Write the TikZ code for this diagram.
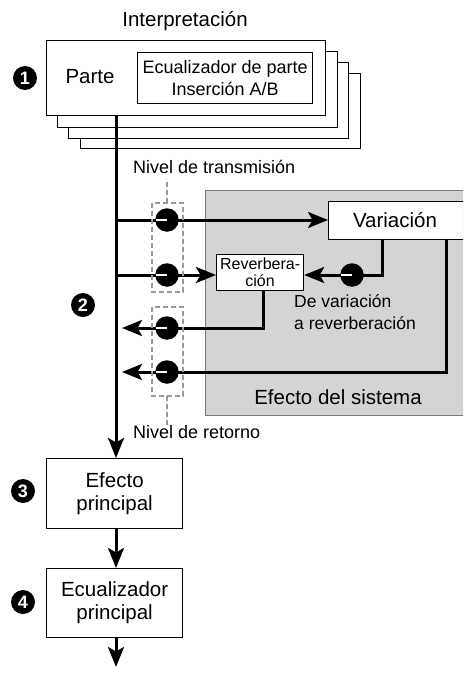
\documentclass[tikz,border=0pt]{standalone}
\usepackage{fontspec}
\setmainfont{Liberation Sans}
\usetikzlibrary{arrows.meta}
\definecolor{sysgray}{HTML}{D3D4D6}
\definecolor{sysedge}{HTML}{7A7A7A}
\definecolor{dashgray}{HTML}{9A9A9A}
\tikzset{
  box/.style={draw=black, line width=1.2pt, fill=white, inner sep=0pt},
  flow/.style={line width=3pt},
  arr/.style={flow, -{Stealth[length=20pt,width=16pt,inset=4.5pt]}},
  knob/.style={circle, fill=black, minimum size=23.5pt, inner sep=0pt},
  num/.style={circle, fill=black, text=white, minimum size=24pt, inner sep=0pt, font=\fontsize{18}{18}\selectfont\bfseries},
  dashbox/.style={draw=dashgray, line width=1.5pt, dash pattern=on 5pt off 3pt},
  big/.style={font=\fontsize{20.5}{23}\selectfont, inner sep=0pt},
  mid/.style={font=\fontsize{18}{22}\selectfont, inner sep=0pt},
  small/.style={font=\fontsize{16}{17}\selectfont, inner sep=0pt},
}
\begin{document}
\begin{tikzpicture}[x=1pt,y=-1pt]
\path[use as bounding box] (0,0) rectangle (463,677);
\clip (0,0) rectangle (463,677);
\fill[white] (0,0) rectangle (463,677);

% system effect area
\node[fill=sysgray, draw=sysedge, line width=0.8pt, minimum width=262pt, minimum height=225pt, inner sep=0pt, anchor=north west] (sys) at (205,190) {};

% stacked part boxes
\node[box, minimum width=280pt, minimum height=75pt, anchor=north west] (p4) at (80,73) {};
\node[box, minimum width=280pt, minimum height=76pt, anchor=north west] (p3) at (68,62) {};
\node[box, minimum width=280pt, minimum height=76pt, anchor=north west] (p2) at (57,51) {};
\node[box, minimum width=279pt, minimum height=75pt, anchor=north west] (parte) at (46,40) {};
\node[box, minimum width=175pt, minimum height=51pt, anchor=north west, align=center, mid] (peq) at (137,52) {Ecualizador de parte\\Inserción A/B};
\node[big] (partetxt) at (90,77) {Parte};
\node[big] (interp) at (185,21) {Interpretación};

% boxes
\node[box, minimum width=140pt, minimum height=38pt, anchor=north west] (var) at (328,201) {};
\node[big] (vartxt) at (395,220) {Variación};
\node[box, minimum width=87pt, minimum height=36pt, anchor=north west, align=center, small] (rev) at (216,254) {Reverbera-\\ción};
\node[box, minimum width=136pt, minimum height=70pt, anchor=north west, align=center, big] (efp) at (46,458) {Efecto\\principal};
\node[box, minimum width=136pt, minimum height=69pt, anchor=north west, align=center, big] (eqp) at (46,568) {Ecualizador\\principal};

% labels
\node[mid, anchor=west] (ntx) at (133,167) {Nivel de transmisión};
\node[mid, anchor=west] (nrt) at (133,432) {Nivel de retorno};
\node[font=\fontsize{17.5}{22}\selectfont, inner sep=0pt, anchor=north west, align=left] (dvar) at (294,294) {De variación\\a reverberación};
\node[big] (efs) at (338,397) {Efecto del sistema};

% number markers
\node[num] (n1) at (25,78) {1};
\node[num] (n2) at (83,305) {2};
\node[num] (n3) at (23,491) {3};
\node[num] (n4) at (23,602) {4};

% coordinates
\coordinate (top) at (116,115);
\coordinate (b1) at (116,220);
\coordinate (b2) at (116,275);
\coordinate (r1) at (122,328);
\coordinate (r2) at (122,372);
\coordinate (vo) at (382,239);
\coordinate (vc) at (382,275);
\coordinate (vr) at (446,239);
\coordinate (vrc) at (446,372);
\coordinate (ro) at (263,290);
\coordinate (roc) at (263,328);
\coordinate (nt) at (167,182);
\coordinate (nr) at (167,425);

% main flow
\draw[arr] (top) -- (efp.north -| top);
\draw[arr] (efp.south -| top) -- (eqp.north -| top);
\coordinate (end) at (116,667);
\draw[arr] (eqp.south -| top) -- (end);

% sends
\draw[arr] (b1) -- (var.west |- b1);
\draw[arr] (b2) -- (rev.west |- b2);
% variation to reverb
\draw[arr, line join=miter] (vo) -- (vc) -- (rev.east |- vc);
% returns
\draw[arr, line join=miter] (ro) -- (roc) -- (r1);
\draw[arr, line join=miter] (vr) -- (vrc) -- (r2);

% dashed groups
\draw[dashbox] (152,203) rectangle (183,292);
\draw[dashbox] (152,307) rectangle (183,396);
\draw[dashbox] (nt) -- (167,203);
\draw[dashbox] (167,396) -- (nr);

% knobs
\foreach \n/\x/\y in {k1/167/220, k2/167/275, k3/167/328, k4/167/372, k5/352/275}{
  \node[knob] (\n) at (\x,\y) {};
  \draw[white, line width=2pt] ([xshift=0.5pt]\n.west) -- (\n.center);
}
\end{tikzpicture}
\end{document}
